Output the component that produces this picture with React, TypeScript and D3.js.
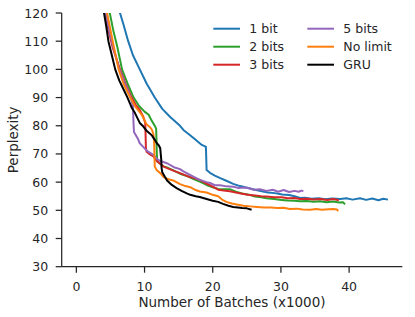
import React from "react";
import * as d3 from "d3";

type P = [number, number];

const xTicks = [0, 10, 20, 30, 40];
const yTicks = [30, 40, 50, 60, 70, 80, 90, 100, 110, 120];

const bit1: P[] = [[6.2,121],[6.4,120],[6.9,116],[7.6,110],[8.3,105],[9.3,100],[10.3,95],[11.5,90],[12.6,86],[13.8,83],[15.2,80],[15.7,78.5],[16.5,77],[17.4,75.2],[18.0,74],[18.4,73.2],[18.8,72.8],[19.0,72.5],[19.1,64.3],[19.6,63.3],[20.3,62.3],[21.1,61.4],[22.0,60.5],[23.0,59.4],[24.0,58.6],[25.2,57.9],[26.2,57.3],[27.2,56.8],[28.1,56.3],[29.1,56.1],[30.2,55.6],[31.2,55.4],[32.0,55.0],[32.8,54.4],[33.5,54.5],[34.5,54.1],[35.5,54.3],[36.5,53.9],[37.5,54.2],[38.7,54.0],[39.6,54.3],[40.5,53.8],[41.6,54.3],[42.5,53.7],[43.4,54.2],[44.3,53.6],[45.0,54.1],[45.7,53.8]];

const bits2: P[] = [[4.7,121],[4.9,120],[5.4,114],[6.0,108],[6.7,100],[7.5,95],[8.4,90],[9.2,87],[10.0,85],[10.6,83.9],[11.0,82],[11.5,80],[11.7,79],[11.75,75],[11.8,70],[11.85,67.3],[12.3,66.5],[12.8,65.6],[13.5,65],[14.3,64.1],[15.2,63.0],[16.2,62.2],[17.1,61.2],[18.1,60.2],[19.1,59],[20.0,58.2],[20.8,57.6],[21.6,57.5],[22.5,57.5],[23.4,56.6],[24.3,56.0],[25.5,55.4],[26.2,54.9],[27.1,54.6],[27.9,54.3],[29.0,54.0],[30.1,53.7],[31.0,53.5],[32.0,53.4],[32.8,53.2],[33.8,53.3],[34.8,53.0],[35.7,53.2],[36.7,52.9],[37.7,53.1],[38.5,52.8],[39.1,52.9],[39.4,52.1]];

const bits3: P[] = [[4.0,121],[4.2,120],[4.7,114],[5.3,108],[6.4,100],[7.2,95],[8.1,90],[8.8,87],[9.3,85.6],[9.8,83.3],[10.1,81],[10.15,77],[10.2,72],[10.3,70.8],[10.8,69.8],[11.3,69.1],[11.8,67.5],[12.8,65.5],[13.5,64.8],[14.3,64],[15.2,63.2],[16.2,62.2],[17.1,61.5],[18.1,60.8],[19.0,59.6],[19.9,58.5],[20.8,57.3],[21.6,57.0],[22.5,56.8],[23.4,56.3],[24.3,55.9],[25.2,55.5],[26.2,55.3],[27.1,55.0],[27.9,54.9],[29.0,54.6],[30.1,54.6],[31.0,54.3],[32.0,54.4],[32.8,54.0],[33.8,54.1],[34.8,53.8],[35.8,54.0],[36.8,53.7],[37.7,54.0],[38.5,53.6]];

const bits5: P[] = [[4.1,121],[4.3,120],[4.8,114],[5.4,108],[6.3,100],[7.1,95],[7.8,91],[8.1,89],[8.3,87],[8.35,83],[8.4,80],[8.45,77.8],[9.0,75.5],[9.3,73.8],[9.8,72.5],[10.4,71],[11.3,69.7],[11.8,68.3],[12.3,67.5],[13.3,66.7],[14.3,65.3],[15.2,64.6],[15.7,63.8],[16.8,62.4],[18.1,60.8],[19.1,60.0],[19.6,59.7],[20.3,58.9],[21.1,58.9],[22.0,58.5],[23.0,58.4],[23.8,57.9],[24.6,58.1],[25.2,57.9],[26.0,57.3],[26.9,57.5],[27.9,56.9],[28.8,57.3],[29.6,56.6],[30.4,57.2],[31.2,56.5],[32.0,56.9],[32.6,56.6],[33.0,57.0],[33.3,56.8]];

const noLimit: P[] = [[4.3,121],[4.5,120],[5.0,114],[5.5,108],[6.2,100],[6.9,95],[7.9,90],[8.6,87],[9.6,83.9],[10.3,80.5],[10.8,79.5],[11.1,78.5],[11.3,77],[11.4,75],[11.45,70],[11.5,65.5],[11.8,64.2],[12.3,63.2],[12.8,61.8],[13.5,61],[14.2,60.6],[15.2,59.3],[16.0,58.6],[16.7,58.2],[17.5,57.2],[18.1,56.7],[19.1,56.3],[20.0,55.5],[20.8,55.0],[21.5,53.6],[22.0,53.0],[22.8,52.4],[23.7,52.0],[24.5,51.6],[25.5,51.4],[26.5,51.2],[27.5,51.0],[28.5,51.0],[29.5,50.8],[30.4,50.9],[31.3,50.5],[32.3,50.6],[33.2,50.3],[34.3,50.2],[35.2,50.5],[36.0,50.2],[37.0,50.4],[37.7,50.5],[38.2,50.3],[38.4,49.7]];

const gru: P[] = [[3.9,121],[4.06,120],[4.4,115],[4.7,110],[5.2,105],[5.7,100],[6.3,96],[7.0,92.5],[7.5,90],[8.1,86.5],[8.6,84.5],[9.3,81],[9.8,79.8],[10.3,78.2],[10.8,77.2],[11.1,76.5],[11.5,75],[11.8,73.8],[12.1,73],[12.3,72],[12.45,68],[12.5,65],[12.6,63.5],[13.0,61.8],[13.3,60.6],[14.0,59],[14.7,57.9],[15.5,56.8],[16.2,56],[16.7,55.5],[17.5,55],[18.1,54.7],[19.1,54.0],[20.0,53.4],[20.8,53.0],[21.5,52.3],[22.3,51.6],[23.0,51.2],[23.7,51.0],[24.3,50.8],[25.0,50.7],[25.7,50.2]];

const seriesNames = ["1 bit", "2 bits", "3 bits", "5 bits", "No limit", "GRU"];
const seriesData = [bit1, bits2, bits3, bits5, noLimit, gru];
const seriesColors = ["#1f77b4", "#2ca02c", "#d62728", "#9467bd", "#ff7f0e", "#000000"];
const drawOrder = [0, 1, 2, 3, 4, 5];

export default function App() {
  const W = 415, H = 317;
  const left = 61.7, right = 402.3, top = 13, bottom = 266.7;
  const x = d3.scaleLinear().domain([-2.15, 47.8]).range([left, right]);
  const y = d3.scaleLinear().domain([30, 120]).range([bottom, top]);
  const line = d3.line<P>().x(d => x(d[0])).y(d => y(d[1]));
  const ink = "#262626";
  const font = "DejaVu Sans, sans-serif";
  const legendX = [213.3, 307.3];
  const legendY = [28.7, 46.7, 64.7];
  return (
    <svg width={W} height={H} style={{ position: "absolute", left: 0, top: 0 }} fontFamily={font}>
      <rect width={W} height={H} fill="#fff" />
      <defs>
        <clipPath id="plotclip">
          <rect x={left} y={top} width={right - left} height={bottom - top} />
        </clipPath>
      </defs>
      <g clipPath="url(#plotclip)">
        {drawOrder.map(i => (
          <path key={i} d={line(seriesData[i]) || ""} fill="none" stroke={seriesColors[i]} strokeWidth={2} strokeLinejoin="round" />
        ))}
      </g>
      <line x1={left} x2={left} y1={top} y2={bottom} stroke={ink} strokeWidth={1.25} />
      <line x1={left} x2={right} y1={bottom} y2={bottom} stroke={ink} strokeWidth={1.25} />
      {yTicks.map(t => (
        <g key={"y" + t}>
          <line x1={left - 6} x2={left} y1={y(t)} y2={y(t)} stroke={ink} strokeWidth={1.25} />
          <text x={left - 13.5} y={y(t)} dy="0.36em" textAnchor="end" fontSize={12.5} fill={ink}>{t}</text>
        </g>
      ))}
      {xTicks.map(t => (
        <g key={"x" + t}>
          <line x1={x(t)} x2={x(t)} y1={bottom} y2={bottom + 6} stroke={ink} strokeWidth={1.25} />
          <text x={x(t)} y={291} textAnchor="middle" fontSize={12.5} fill={ink}>{t}</text>
        </g>
      ))}
      <text x={(left + right) / 2} y={307} textAnchor="middle" fontSize={13.5} fill={ink}>Number of Batches (x1000)</text>
      <text transform={`translate(17.5,${(top + bottom) / 2}) rotate(-90)`} textAnchor="middle" fontSize={13.5} fill={ink}>Perplexity</text>
      {seriesNames.map((n, i) => {
        const col = Math.floor(i / 3), row = i % 3;
        const lx = legendX[col], ly = legendY[row];
        return (
          <g key={n}>
            <line x1={lx} x2={lx + 26.7} y1={ly} y2={ly} stroke={seriesColors[i]} strokeWidth={2} />
            <text x={lx + 36} y={ly} dy="0.36em" fontSize={12.5} fill={ink}>{n}</text>
          </g>
        );
      })}
    </svg>
  );
}
